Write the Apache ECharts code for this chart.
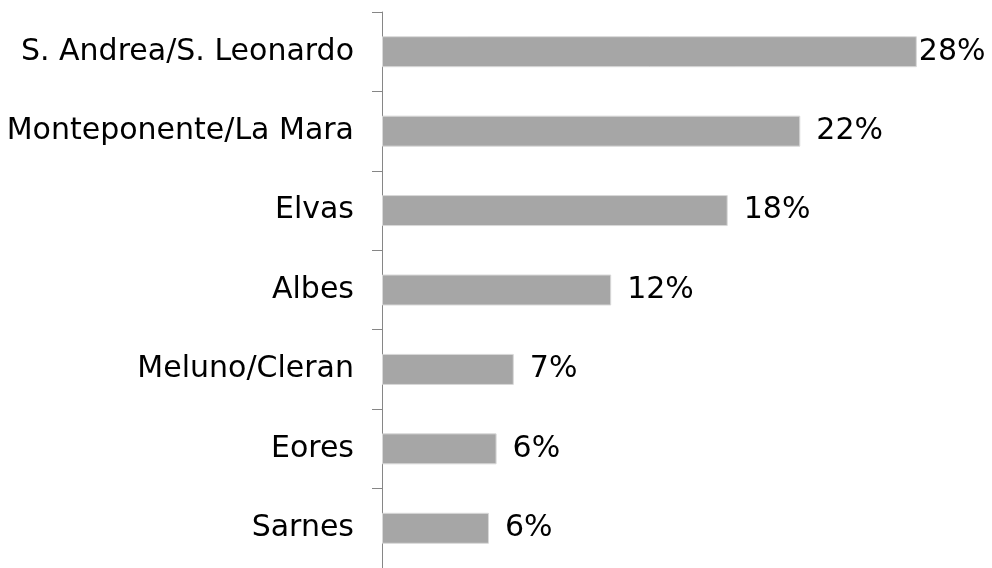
<!DOCTYPE html>
<html>
<head>
<meta charset="utf-8">
<style>
  html, body { margin: 0; padding: 0; background: #fff; }
  #main { width: 992px; height: 568px; }
</style>
<script src="https://cdn.jsdelivr.net/npm/echarts@6/dist/echarts.min.js"></script>
</head>
<body>
<div id="main"></div>
<script>
  // quartieri, dall'alto verso il basso
  var categories = ['S. Andrea/S. Leonardo', 'Monteponente/La Mara', 'Elvas', 'Albes', 'Meluno/Cleran', 'Eores', 'Sarnes'];
  var shares = [28.0, 21.9, 18.1, 12.0, 6.9, 6.0, 5.6];

  var chart = echarts.init(document.getElementById('main'));
  chart.setOption({
    animation: false,
    textStyle: { fontFamily: 'DejaVu Sans' },
    grid: { left: 382, right: 37, top: 12, bottom: 0 },
    xAxis: {
      type: 'value',
      min: 0,
      max: 30,
      show: false
    },
    yAxis: {
      type: 'category',
      inverse: true,
      data: categories,
      axisLine: { lineStyle: { color: '#868686', width: 1 } },
      axisTick: { show: true, length: 10, lineStyle: { color: '#868686' } },
      axisLabel: { color: '#000', fontSize: 30, margin: 28 }
    },
    series: [{
      type: 'bar',
      barWidth: 31,
      data: shares.map(function (v, i) {
        // the longest bar has its label pressed right against the end
        return i === 0 ? { value: v, label: { distance: 2 } } : v;
      }),
      itemStyle: { color: '#a6a6a6', borderColor: '#d9d9d9', borderWidth: 1 },
      label: {
        show: true,
        position: 'right',
        distance: 16,
        color: '#000',
        fontSize: 30,
        formatter: function (p) { return Math.round(p.value) + '%'; }
      }
    }]
  });
</script>
</body>
</html>
